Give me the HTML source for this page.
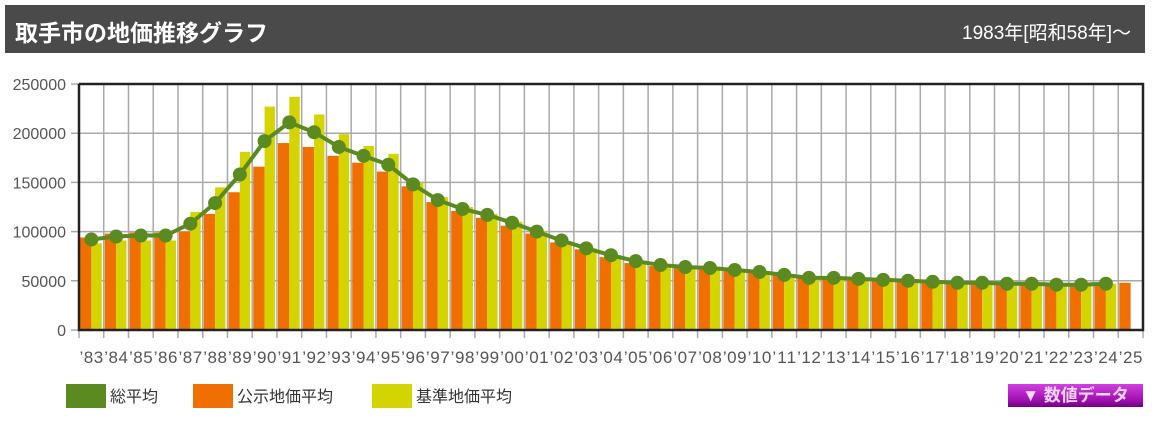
<!DOCTYPE html>
<html><head><meta charset="utf-8"><style>
body{margin:0;background:#fff;width:1162px;height:423px;overflow:hidden;font-family:"Liberation Sans","Noto Sans CJK JP",sans-serif}
#hd{position:absolute;left:5px;top:5px;width:1140px;height:48px;background:#4a4a4a;color:#fff}
#hd .t{position:absolute;left:10px;top:9px;font-size:23px;font-weight:bold}
#hd .r{position:absolute;right:14px;top:13px;font-size:19px}
#btn{position:absolute;left:1008px;top:384px;width:135px;height:23px;background:linear-gradient(#d040e0,#a010b0 70%,#700080);color:#f4d8f8;font-weight:bold;font-size:17px;line-height:23px;text-align:center}
</style></head><body>
<div id="hd"><span class="t">取手市の地価推移グラフ</span><span class="r">1983年[昭和58年]～</span></div>
<svg id="s" width="1162" height="423" style="position:absolute;left:0;top:0"></svg>
<div id="btn">▼ 数値データ</div>
<script>
var o=[94,98,99,99,100,118,140,166,190,186,177,170,161,146,130,121,114,106,98,89,82,74,68,65,63,62,60,58,56,53,52,51,50,49,48,48,47,47,47,46,46,46,48];
var y=[88,91,91,91,120,145,181,227,237,219,199,187,179,150,135,125,118,110,100,90,83,76,70,66,64,63,61,59,57,54,53,52,51,50,49,48,48,48,47,46,46,47];
var a=[92,95,96,96,108,129,158,192,211,201,186,177,168,148,132,123,117,109,100,91,83,76,70,66,64,63,61,59,56,53,53,52,51,50,49,48,48,47,47,46,46,47];
var L=79,R=1143,T=84,B=330,n=43,w=(R-L)/n,s='';
function Y(v){return B-v*1000*(B-T)/250000;}
for(var i=0;i<=5;i++){var yy=Y(i*50);s+='<line x1="'+(L-8)+'" x2="'+R+'" y1="'+yy+'" y2="'+yy+'" stroke="#aaa" stroke-width="1.5"/>';
s+='<text x="66" y="'+(yy+6)+'" text-anchor="end" font-size="16" fill="#555">'+(i*50000)+'</text>';}
for(var i=0;i<=n;i++){var x=L+i*w;s+='<line x1="'+x+'" x2="'+x+'" y1="'+T+'" y2="'+(B+8)+'" stroke="#aaa" stroke-width="1.5"/>';}
for(var i=0;i<n;i++){var x=L+i*w;
s+='<rect x="'+(x+1)+'" y="'+Y(o[i])+'" width="'+(w/2-1)+'" height="'+(B-Y(o[i]))+'" fill="#ef7000"/>';
if(i<y.length)s+='<rect x="'+(x+w/2)+'" y="'+Y(y[i])+'" width="'+(w/2-2)+'" height="'+(B-Y(y[i]))+'" fill="#d4d400"/>';
var lb=String(83+i>99?83+i-100:83+i);if(lb.length<2)lb='0'+lb;
s+='<text x="'+(x+w/2)+'" y="363" text-anchor="middle" font-size="17" textLength="'+(w-1)+'" fill="#555">’'+lb+'</text>';}
var p='';for(var i=0;i<a.length;i++){p+=(L+i*w+w/2)+','+Y(a[i])+' ';}
s+='<polyline points="'+p+'" fill="none" stroke="#5a8a20" stroke-width="4"/>';
for(var i=0;i<a.length;i++)s+='<circle cx="'+(L+i*w+w/2)+'" cy="'+Y(a[i])+'" r="7" fill="#5a8a20"/>';
s+='<polyline points="'+L+','+T+' '+R+','+T+' '+R+','+B+' '+L+','+B+' '+L+','+T+'" fill="none" stroke="#222" stroke-width="2.5"/>';
var lg=[['#5a8a20','総平均',66],['#ef7000','公示地価平均',193],['#d4d400','基準地価平均',372]];
lg.forEach(function(g){s+='<rect x="'+g[2]+'" y="384" width="40" height="24" fill="'+g[0]+'"/><text x="'+(g[2]+44)+'" y="402" font-size="16" fill="#333">'+g[1]+'</text>';});
document.getElementById('s').innerHTML=s;
</script>
</body></html>
